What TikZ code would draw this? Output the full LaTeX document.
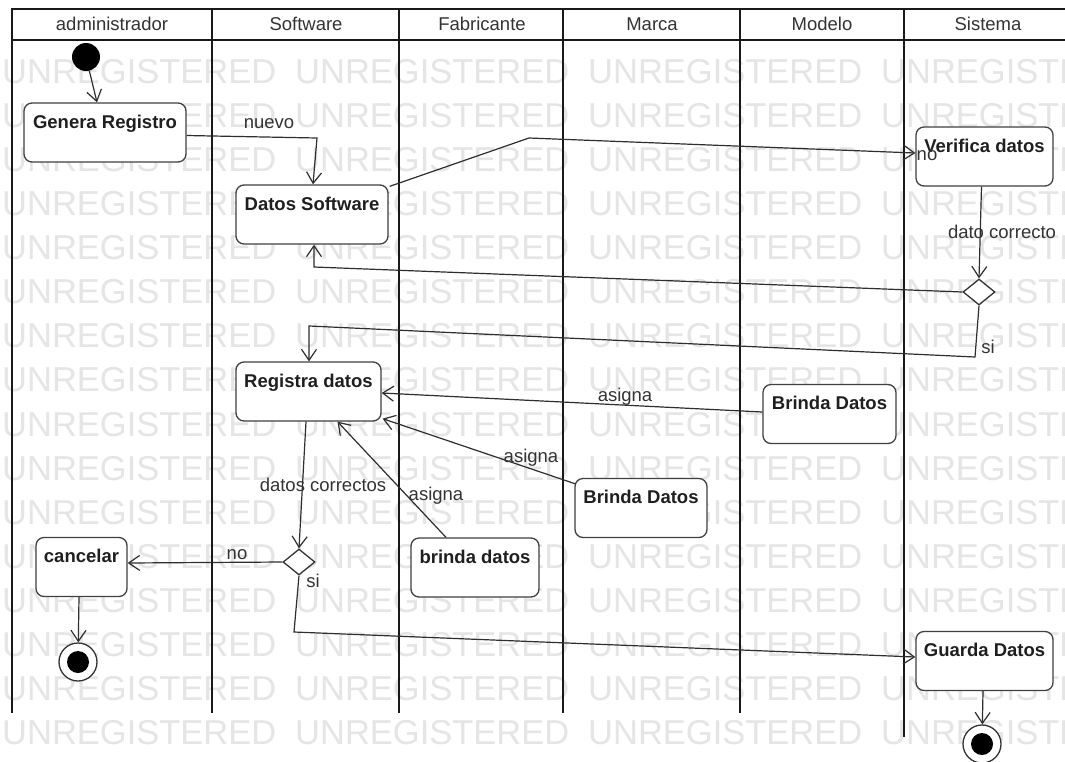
\documentclass[tikz,border=0pt]{standalone}
\usepackage{fontspec}
\setmainfont{Liberation Sans}
\usetikzlibrary{arrows.meta,shapes.geometric,calc}

\begin{document}
\begin{tikzpicture}[
  x=1pt, y=-1pt,
  wmark/.style={anchor=base west, inner sep=0pt, text=black!10,
    font=\fontsize{34.5pt}{40pt}\selectfont},
  lane/.style={draw=black!90, line width=2.4pt},
  hdr/.style={anchor=base, inner sep=0pt, text=black!80,
    font=\fontsize{18.5pt}{22pt}\selectfont},
  act/.style={draw=black!75, line width=1.3pt, fill=white, rounded corners=8pt,
    inner xsep=0pt, inner ysep=0pt, text height=25pt, text depth=34pt,
    text=black!88, font=\fontsize{18.5pt}{22pt}\selectfont\bfseries},
  dec/.style={diamond, draw=black!80, line width=1.3pt, fill=white,
    minimum width=32pt, minimum height=26pt, inner sep=0pt},
  startnode/.style={circle, fill=black, minimum size=28pt, inner sep=0pt},
  endring/.style={circle, draw=black!80, line width=1.3pt, fill=white,
    minimum size=38pt, inner sep=0pt},
  enddot/.style={circle, fill=black, minimum size=22pt, inner sep=0pt},
  flow/.style={draw=black!82, line width=1.2pt,
    -{Straight Barb[length=11pt,width=15pt,line width=1.2pt]}},
  elabel/.style={anchor=base, inner sep=0pt, text=black!80,
    font=\fontsize{18.5pt}{22pt}\selectfont},
]
\useasboundingbox (0,0) rectangle (1065,761);
\fill[white] (0,0) rectangle (1065,761);

% background watermark rows
\begin{scope}
  \clip (0,0) rectangle (1065,761);
  \foreach \k in {0,...,15} {
    \foreach \j in {0,...,3} {
      \node[wmark] (wm-\k-\j) at ({2+293*\j},{83+44.13*\k}) {UNREGISTERED};
    }
  }
\end{scope}

% swimlanes
\draw[lane] (12,9) -- (1065,9);
\draw[lane] (12,40) -- (1065,40);
\foreach \xl in {12,212,399,563,740} {
  \draw[lane] (\xl,8) -- (\xl,713);
}
\draw[lane] (904,8) -- (904,737);

\node[hdr] (h-adm) at (112,30) {administrador};
\node[hdr] (h-sw)  at (306,30) {Software};
\node[hdr] (h-fab) at (482,30) {Fabricante};
\node[hdr] (h-mar) at (652,30) {Marca};
\node[hdr] (h-mod) at (822,30) {Modelo};
\node[hdr] (h-sis) at (988,30) {Sistema};

% activities
\node[startnode] (init) at (86,57) {};
\node[act, minimum width=162pt] (gen)  at (105,132.5) {Genera Registro};
\node[act, minimum width=152pt] (dsw)  at (312,214.5) {Datos Software};
\node[act, minimum width=137pt] (ver)  at (984.5,156.5) {Verifica datos};
\node[dec] (d1) at (979,292) {};
\node[act, minimum width=145pt] (reg)  at (308.5,391.5) {Registra datos};
\node[act, minimum width=133pt] (bmod) at (829.5,414) {Brinda Datos};
\node[act, minimum width=132pt] (bmar) at (641,508) {Brinda Datos};
\node[act, minimum width=128pt] (bfab) at (475,567.5) {brinda datos};
\node[dec] (d2) at (299,562) {};
\node[act, minimum width=91pt] (can)  at (81.5,567) {cancelar};
\node[act, minimum width=137pt] (gua)  at (984.5,661) {Guarda Datos};

\node[endring] (fin1) at (78,662) {};
\node[enddot] (fin1c) at (78,662) {};
\node[endring] (fin2) at (982,744) {};
\node[enddot] (fin2c) at (982,744) {};

% control flows
\draw[flow] (init) -- ($(gen.north)+(-8,0)$);
\draw[flow] ($(gen.east)+(0,3)$) -- (317,138) -- ($(dsw.north)+(1,0)$);
\draw[flow] ($(dsw.north east)+(1,2)$) -- (529,138) -- ($(ver.west)+(0,-3.5)$);
\draw[flow] ($(ver.south)+(-3,0)$) -- (d1.north);
\draw[flow] (d1.west) -- (314,267) -- ($(dsw.south)+(2,0)$);
\draw[flow] (d1.south) -- (975,357) -- (309,326) -- ($(reg.north)+(0.5,0)$);
\draw[flow] ($(bmod.west)+(0,-2)$) -- ($(reg.east)+(0,1.5)$);
\draw[flow] ($(bmar.north west)+(1,6)$) -- ($(reg.south east)+(1,-3)$);
\draw[flow] ($(bfab.north)+(-29,0)$) -- ($(reg.south)+(29,0)$);
\draw[flow] ($(reg.south)+(-2.5,0)$) -- (d2.north);
\draw[flow] (d2.west) -- ($(can.east)+(0,-4)$);
\draw[flow] ($(can.south)+(-2.5,0)$) -- (fin1);
\draw[flow] (d2.south) -- (294,632) -- ($(gua.west)+(0,-4)$);
\draw[flow] ($(gua.south)+(-1.5,0)$) -- (fin2);

% flow labels
\node[elabel] (l-nuevo) at (269,128) {nuevo};
\node[elabel] (l-no1)   at (927,160) {no};
\node[elabel] (l-dc)    at (1002,238) {dato correcto};
\node[elabel] (l-si1)   at (988,353) {si};
\node[elabel] (l-as1)   at (625,401) {asigna};
\node[elabel] (l-as2)   at (531,462) {asigna};
\node[elabel] (l-as3)   at (436,500) {asigna};
\node[elabel] (l-dcs)   at (323,491) {datos correctos};
\node[elabel] (l-no2)   at (237,559) {no};
\node[elabel] (l-si2)   at (313,587) {si};
\end{tikzpicture}
\end{document}
